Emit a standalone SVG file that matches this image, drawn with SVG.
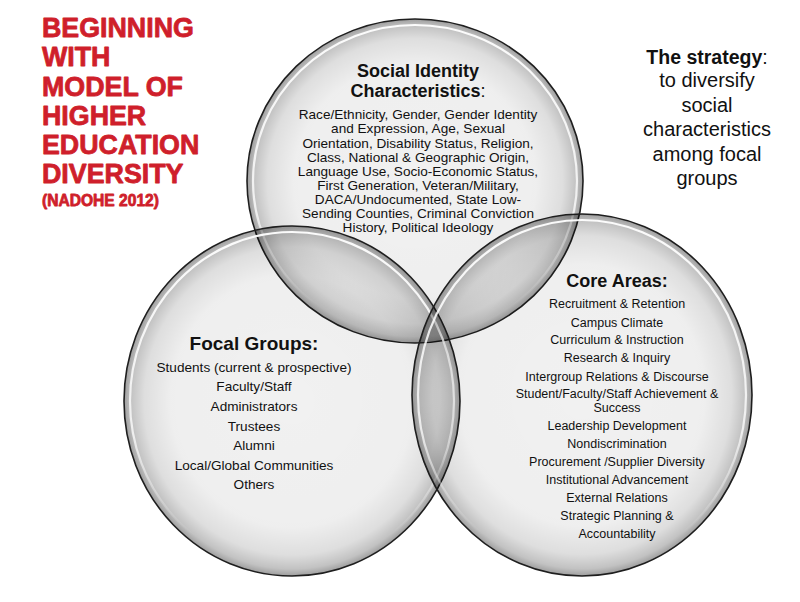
<svg xmlns="http://www.w3.org/2000/svg" width="800" height="602" viewBox="0 0 800 602">
<defs>
<radialGradient id="shade" cx="50%" cy="50%" r="50%">
<stop offset="0" stop-color="#000" stop-opacity="0.055"/>
<stop offset="0.72" stop-color="#000" stop-opacity="0.065"/>
<stop offset="0.88" stop-color="#000" stop-opacity="0.13"/>
<stop offset="0.96" stop-color="#000" stop-opacity="0.24"/>
<stop offset="1" stop-color="#000" stop-opacity="0.38"/>
</radialGradient>
<linearGradient id="hl" x1="0" y1="0" x2="0" y2="1">
<stop offset="0" stop-color="#fff" stop-opacity="0.95"/>
<stop offset="0.6" stop-color="#fff" stop-opacity="0.75"/>
<stop offset="0.9" stop-color="#fff" stop-opacity="0"/>
</linearGradient>
<style>
.disc{fill:url(#shade);stroke:#1e1e1e;stroke-width:1.6}
.hl{fill:none;stroke:url(#hl);stroke-width:2.2}
.red{font-family:"Liberation Sans",Arial,sans-serif;font-weight:bold;fill:#cf1f2b;stroke:#cf1f2b;stroke-width:0.8;stroke-linejoin:round}
.h{font-family:"Liberation Sans",Arial,sans-serif;font-weight:bold;fill:#111;text-anchor:middle}
.b{font-family:"Liberation Sans",Arial,sans-serif;fill:#111;text-anchor:middle}
</style>
</defs>
<rect width="800" height="602" fill="#fff"/>

<g id="title">
<text class="red" x="42" font-size="26.8"><tspan x="42" y="37">BEGINNING</tspan><tspan x="42" y="66">WITH</tspan><tspan x="42" y="96">MODEL OF</tspan><tspan x="42" y="125">HIGHER</tspan><tspan x="42" y="154">EDUCATION</tspan><tspan x="42" y="183">DIVERSITY</tspan></text>
<text class="red" x="42" y="206" font-size="15.6" stroke-width="0.3">(NADOHE 2012)</text>
</g>

<g id="strategy">
<text class="h" x="707" y="64" font-size="19.5">The strategy<tspan font-weight="normal">:</tspan></text>
<text class="b" font-size="20"><tspan x="707" y="87">to diversify</tspan><tspan x="707" y="112">social</tspan><tspan x="707" y="136">characteristics</tspan><tspan x="707" y="161">among focal</tspan><tspan x="707" y="185">groups</tspan></text>
</g>

<g id="social-identity">
<ellipse class="disc" cx="415" cy="181" rx="168" ry="162"/>
<ellipse class="hl" cx="415" cy="181" rx="162" ry="156"/>
</g>

<g id="focal-groups">
<ellipse class="disc" cx="292" cy="401" rx="168" ry="175"/>
<ellipse class="hl" cx="292" cy="401" rx="162" ry="169"/>
</g>

<g id="core-areas">
<ellipse class="disc" cx="582" cy="395" rx="170" ry="181"/>
<ellipse class="hl" cx="582" cy="395" rx="164" ry="175"/>
</g>

<g id="social-identity-text">
<text class="h" x="418" y="77" font-size="18">Social Identity</text>
<text class="h" x="418" y="97" font-size="18">Characteristics<tspan font-weight="normal">:</tspan></text>
<text class="b" font-size="13.6"><tspan x="418" y="119">Race/Ethnicity, Gender, Gender Identity</tspan><tspan x="418" y="133">and Expression, Age, Sexual</tspan><tspan x="418" y="148">Orientation, Disability Status, Religion,</tspan><tspan x="418" y="162">Class, National &amp; Geographic Origin,</tspan><tspan x="418" y="176">Language Use, Socio-Economic Status,</tspan><tspan x="418" y="190">First Generation, Veteran/Military,</tspan><tspan x="418" y="204">DACA/Undocumented, State Low-</tspan><tspan x="418" y="218">Sending Counties, Criminal Conviction</tspan><tspan x="418" y="232">History, Political Ideology</tspan></text>
</g>

<g id="focal-groups-text">
<text class="h" x="254" y="350" font-size="19">Focal Groups:</text>
<text class="b" font-size="13.6"><tspan x="254" y="372">Students (current &amp; prospective)</tspan><tspan x="254" y="391">Faculty/Staff</tspan><tspan x="254" y="411">Administrators</tspan><tspan x="254" y="431">Trustees</tspan><tspan x="254" y="450">Alumni</tspan><tspan x="254" y="470">Local/Global Communities</tspan><tspan x="254" y="489">Others</tspan></text>
</g>

<g id="core-areas-text">
<text class="h" x="617" y="287" font-size="18">Core Areas:</text>
<text class="b" font-size="12.5"><tspan x="617" y="308">Recruitment &amp; Retention</tspan><tspan x="617" y="327">Campus Climate</tspan><tspan x="617" y="344">Curriculum &amp; Instruction</tspan><tspan x="617" y="362">Research &amp; Inquiry</tspan><tspan x="617" y="381">Intergroup Relations &amp; Discourse</tspan><tspan x="617" y="398">Student/Faculty/Staff Achievement &amp;</tspan><tspan x="617" y="412">Success</tspan><tspan x="617" y="430">Leadership Development</tspan><tspan x="617" y="448">Nondiscrimination</tspan><tspan x="617" y="466">Procurement /Supplier Diversity</tspan><tspan x="617" y="484">Institutional Advancement</tspan><tspan x="617" y="502">External Relations</tspan><tspan x="617" y="520">Strategic Planning &amp;</tspan><tspan x="617" y="538">Accountability</tspan></text>
</g>
</svg>
